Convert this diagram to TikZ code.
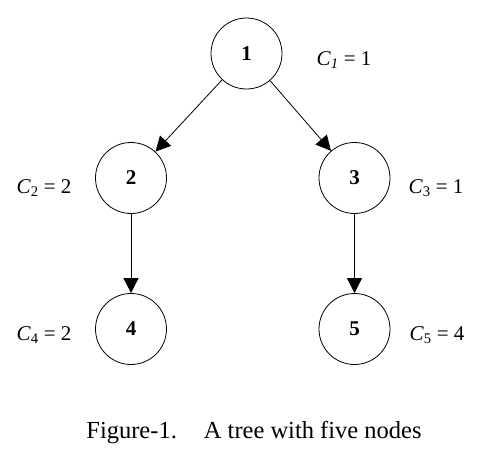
\documentclass[tikz,border=0pt]{standalone}
\usepackage{fontspec}
\setmainfont{Liberation Serif}
\usetikzlibrary{arrows.meta}
\usetikzlibrary{positioning,backgrounds}
\pgfdeclarelayer{edgelayer}
\pgfdeclarelayer{nodelayer}
\pgfsetlayers{background,edgelayer,nodelayer,main}
\tikzstyle{none}=[inner sep=0mm]
\tikzstyle{tn}=[shape=circle,draw=black,fill=white,line width=0.8pt,minimum size=71pt,inner sep=0pt,font=\fontsize{21}{24}\selectfont\bfseries]
\tikzstyle{cost}=[inner sep=0mm,font=\fontsize{21}{24}\selectfont]
\tikzstyle{diredge}=[line width=0.8pt,-{Triangle[length=15pt,width=15pt]}]
\newcommand{\cst}[2]{\textit{C}\textsubscript{#1}~=~#2}
\begin{document}
\begin{tikzpicture}[x=1pt,y=-1pt]
	\useasboundingbox (0,0) rectangle (480,458);
	\begin{pgfonlayer}{nodelayer}
		\node [style=tn] (n1) at (246.5, 53.5) {1};
		\node [style=tn] (n2) at (131, 178) {2};
		\node [style=tn] (n3) at (354.5, 178) {3};
		\node [style=tn] (n4) at (131, 329) {4};
		\node [style=tn] (n5) at (354.5, 329) {5};
		\node [style=cost] (c1) at (344, 60) {\cst{\textit{1}}{1}};
		\node [style=cost] (c2) at (44, 188) {\cst{2}{2}};
		\node [style=cost] (c3) at (436, 188) {\cst{3}{1}};
		\node [style=cost] (c4) at (44, 335) {\cst{4}{2}};
		\node [style=cost] (c5) at (437, 335) {\cst{5}{4}};
		\node [style=none,font=\fontsize{24.5}{28}\selectfont] (cap) at (254, 433) {Figure-1.\hspace{27pt}A tree with five nodes};
	\end{pgfonlayer}
	\begin{pgfonlayer}{edgelayer}
		\draw[style=diredge] (n1) to (n2);
		\draw[style=diredge] (n1) to (n3);
		\draw[style=diredge] (n2) to (n4);
		\draw[style=diredge] (n3) to (n5);
	\end{pgfonlayer}
\end{tikzpicture}
\end{document}
